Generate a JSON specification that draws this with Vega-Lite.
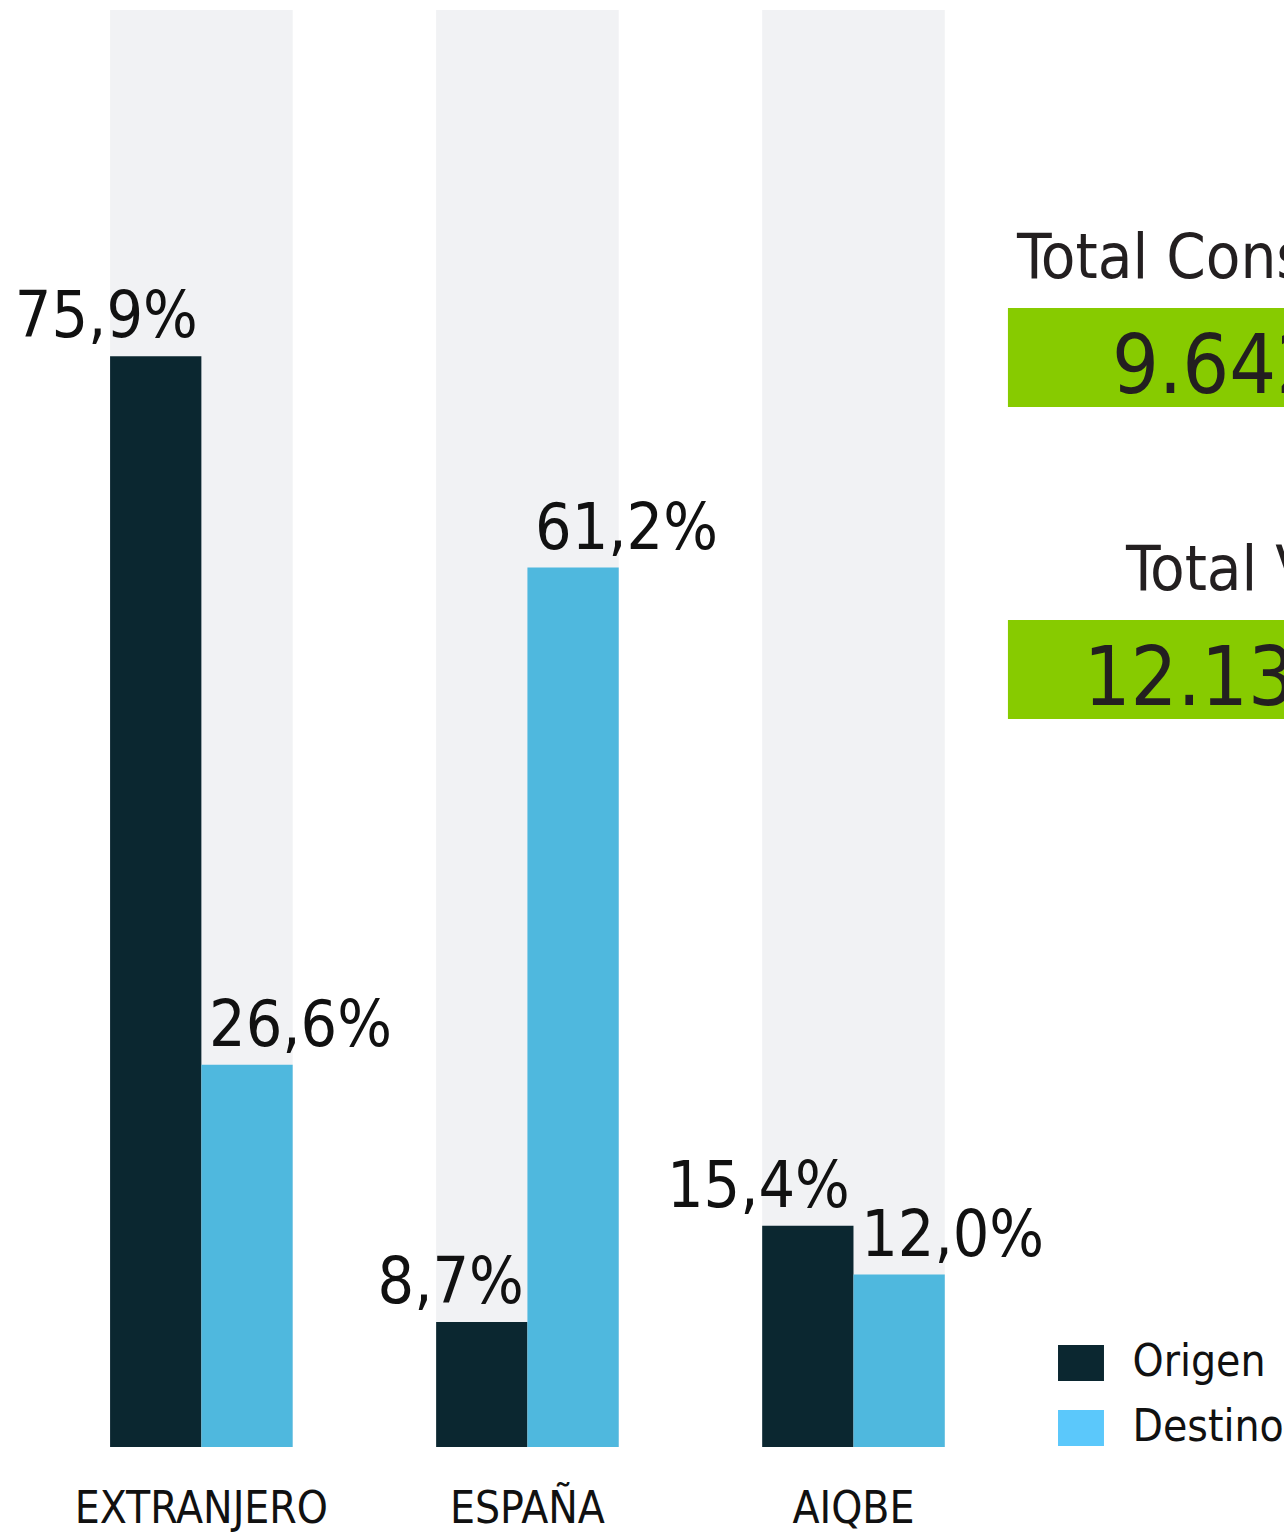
{
  "$schema": "https://vega.github.io/schema/vega-lite/v6.json",
  "width": 1284,
  "height": 1437,
  "autosize": {"type": "none"},
  "padding": {"left": 0, "right": 0, "top": 10, "bottom": 86},
  "background": "#ffffff",
  "config": {
    "view": {"stroke": null},
    "font": "DejaVu Sans Condensed, DejaVu Sans, sans-serif"
  },
  "datasets": {
    "cuotas": [
      {"region": "EXTRANJERO", "serie": "Origen", "pct": 75.9, "etiqueta": "75,9%"},
      {"region": "EXTRANJERO", "serie": "Destino", "pct": 26.6, "etiqueta": "26,6%"},
      {"region": "ESPAÑA", "serie": "Origen", "pct": 8.7, "etiqueta": "8,7%"},
      {"region": "ESPAÑA", "serie": "Destino", "pct": 61.2, "etiqueta": "61,2%"},
      {"region": "AIQBE", "serie": "Origen", "pct": 15.4, "etiqueta": "15,4%"},
      {"region": "AIQBE", "serie": "Destino", "pct": 12.0, "etiqueta": "12,0%"}
    ],
    "fondo": [
      {"region": "EXTRANJERO", "total": 100},
      {"region": "ESPAÑA", "total": 100},
      {"region": "AIQBE", "total": 100}
    ],
    "totales": [
      {"titulo": "Total Consumo", "valor": "9.642"},
      {"titulo": "Total Venta", "valor": "12.13"}
    ],
    "series": [
      {"serie": "Origen"},
      {"serie": "Destino"}
    ]
  },
  "resolve": {"scale": {"x": "independent"}},
  "layer": [
    {
      "encoding": {
        "x": {
          "field": "region",
          "type": "nominal",
          "sort": ["EXTRANJERO", "ESPAÑA", "AIQBE"],
          "scale": {"paddingInner": 0.44, "paddingOuter": 0.689, "align": 0.245},
          "axis": {
            "title": null,
            "domain": false,
            "ticks": false,
            "grid": false,
            "labelAngle": 0,
            "labelFontSize": 44,
            "labelLimit": 0,
            "labelPadding": 40,
            "labelColor": "#111111"
          }
        }
      },
      "layer": [
        {
          "data": {"name": "fondo"},
          "mark": {"type": "bar", "color": "#f1f2f4"},
          "encoding": {
            "y": {"field": "total", "type": "quantitative", "scale": {"domain": [0, 100], "nice": false}, "axis": null}
          }
        },
        {
          "data": {"name": "cuotas"},
          "mark": {"type": "bar"},
          "encoding": {
            "xOffset": {"field": "serie", "type": "nominal", "scale": {"domain": ["Origen", "Destino"], "paddingInner": 0, "paddingOuter": 0}},
            "y": {"field": "pct", "type": "quantitative"},
            "color": {
              "field": "serie",
              "type": "nominal",
              "scale": {"domain": ["Origen", "Destino"], "range": ["#0b2730", "#4fb8de"]},
              "legend": null
            }
          }
        },
        {
          "data": {"name": "cuotas"},
          "transform": [{"filter": "datum.serie === 'Origen'"}],
          "mark": {"type": "text", "align": "right", "baseline": "alphabetic", "dx": 42, "dy": -19, "fontSize": 64, "color": "#111111"},
          "encoding": {
            "xOffset": {"field": "serie", "type": "nominal"},
            "y": {"field": "pct", "type": "quantitative"},
            "text": {"field": "etiqueta"}
          }
        },
        {
          "data": {"name": "cuotas"},
          "transform": [{"filter": "datum.serie === 'Destino'"}],
          "mark": {"type": "text", "align": "left", "baseline": "alphabetic", "dx": -38, "dy": -19, "fontSize": 64, "color": "#111111"},
          "encoding": {
            "xOffset": {"field": "serie", "type": "nominal"},
            "y": {"field": "pct", "type": "quantitative"},
            "text": {"field": "etiqueta"}
          }
        }
      ]
    },
    {
      "data": {"name": "totales"},
      "layer": [
        {
          "transform": [{"filter": "datum.titulo === 'Total Consumo'"}],
          "layer": [
            {
              "mark": {"type": "rect", "color": "#87cb00", "clip": true},
              "encoding": {
                "x": {"datum": 78.5, "type": "quantitative", "scale": {"domain": [0, 100], "nice": false, "zero": false}, "axis": null},
                "x2": {"datum": 100},
                "y": {"datum": 79.26, "type": "quantitative", "scale": {"domain": [0, 100], "nice": false}, "axis": null},
                "y2": {"datum": 72.37}
              }
            },
            {
              "mark": {"type": "text", "align": "left", "baseline": "alphabetic", "fontSize": 63, "color": "#231f20", "clip": true},
              "encoding": {
                "x": {"datum": 79.2, "type": "quantitative"},
                "y": {"datum": 81.35, "type": "quantitative"},
                "text": {"field": "titulo"}
              }
            },
            {
              "mark": {"type": "text", "align": "left", "baseline": "alphabetic", "fontSize": 82, "color": "#231f20", "clip": true},
              "encoding": {
                "x": {"datum": 86.6, "type": "quantitative"},
                "y": {"datum": 73.35, "type": "quantitative"},
                "text": {"field": "valor"}
              }
            }
          ]
        },
        {
          "transform": [{"filter": "datum.titulo === 'Total Venta'"}],
          "layer": [
            {
              "mark": {"type": "rect", "color": "#87cb00", "clip": true},
              "encoding": {
                "x": {"datum": 78.5, "type": "quantitative"},
                "x2": {"datum": 100},
                "y": {"datum": 57.55, "type": "quantitative"},
                "y2": {"datum": 50.66}
              }
            },
            {
              "mark": {"type": "text", "align": "left", "baseline": "alphabetic", "fontSize": 63, "color": "#231f20", "clip": true},
              "encoding": {
                "x": {"datum": 87.7, "type": "quantitative"},
                "y": {"datum": 59.64, "type": "quantitative"},
                "text": {"field": "titulo"}
              }
            },
            {
              "mark": {"type": "text", "align": "left", "baseline": "alphabetic", "fontSize": 82, "color": "#231f20", "clip": true},
              "encoding": {
                "x": {"datum": 84.4, "type": "quantitative"},
                "y": {"datum": 51.64, "type": "quantitative"},
                "text": {"field": "valor"}
              }
            }
          ]
        }
      ]
    },
    {
      "data": {"name": "series"},
      "layer": [
        {
          "transform": [{"filter": "datum.serie === 'Origen'"}],
          "layer": [
            {
              "mark": {"type": "rect", "color": "#0b2730"},
              "encoding": {
                "x": {"datum": 82.4, "type": "quantitative", "scale": {"domain": [0, 100], "nice": false, "zero": false}, "axis": null},
                "x2": {"datum": 85.98},
                "y": {"datum": 7.1, "type": "quantitative"},
                "y2": {"datum": 4.59}
              }
            },
            {
              "mark": {"type": "text", "align": "left", "baseline": "middle", "fontSize": 44, "color": "#111111"},
              "encoding": {
                "x": {"datum": 88.2, "type": "quantitative"},
                "y": {"datum": 5.85, "type": "quantitative"},
                "text": {"field": "serie"}
              }
            }
          ]
        },
        {
          "transform": [{"filter": "datum.serie === 'Destino'"}],
          "layer": [
            {
              "mark": {"type": "rect", "color": "#5bc8fb"},
              "encoding": {
                "x": {"datum": 82.4, "type": "quantitative"},
                "x2": {"datum": 85.98},
                "y": {"datum": 2.57, "type": "quantitative"},
                "y2": {"datum": 0.07}
              }
            },
            {
              "mark": {"type": "text", "align": "left", "baseline": "middle", "fontSize": 44, "color": "#111111"},
              "encoding": {
                "x": {"datum": 88.2, "type": "quantitative"},
                "y": {"datum": 1.32, "type": "quantitative"},
                "text": {"field": "serie"}
              }
            }
          ]
        }
      ]
    }
  ]
}
